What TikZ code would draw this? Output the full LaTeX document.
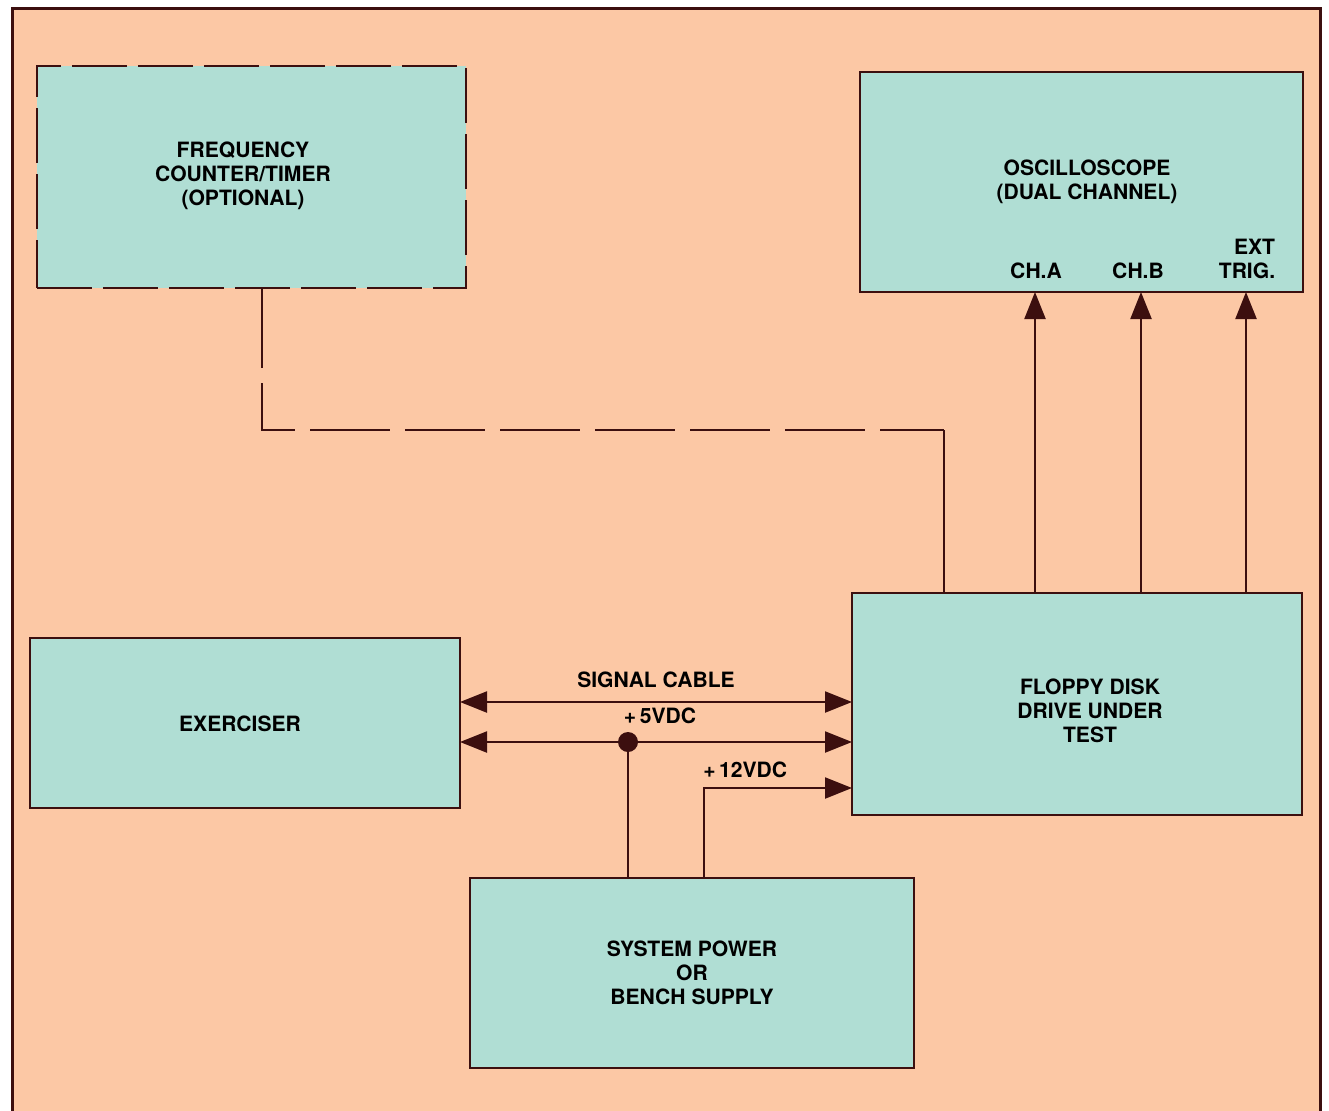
\documentclass[tikz,border=0pt]{standalone}
\usepackage{fontspec}
\setmainfont{TeX Gyre Heros}
\usetikzlibrary{arrows.meta}
\definecolor{peach}{HTML}{FCC8A5}
\definecolor{aqua}{HTML}{B0DED4}
\definecolor{ink}{HTML}{3C0F0F}
\begin{document}
\begin{tikzpicture}[
  x=0.2mm, y=-0.2mm,
  unit/.style={rectangle, draw=ink, fill=aqua, line width=0.45mm, inner sep=0pt, outer sep=0pt,
    align=center, font=\fontsize{12}{13.6}\selectfont\bfseries},
  dunit/.style={unit, dash pattern=on 11mm off 2.2mm},
  wire/.style={draw=ink, line width=0.45mm},
  arrow/.style={wire, -{Triangle[length=5.4mm,width=4.2mm]}},
  both/.style={wire, {Triangle[length=5.4mm,width=4.2mm]}-{Triangle[length=5.4mm,width=4.2mm]}},
  tag/.style={font=\fontsize{12}{13.6}\selectfont\bfseries, inner sep=0pt, align=center}
]
  \useasboundingbox (0,0) rectangle (1329,1111);
  % Page
  \fill[white] (0,0) rectangle (1329,1111);
  \fill[peach] (12,8) rectangle (1320,1111);
  \draw[ink, line width=0.6mm] (12,1111) -- (12,8) -- (1320,8) -- (1320,1111);

  % Instruments
  \node[dunit, minimum width=85.8mm, minimum height=44.4mm] (fq) at (251.5,177) {};
  \node[tag] (fqname) at (243,176) {FREQUENCY\\COUNTER/TIMER\\(OPTIONAL)};
  \node[unit, minimum width=88.6mm, minimum height=44mm] (osc) at (1081.5,182) {};
  \node[tag] (oscname) at (1087,182) {OSCILLOSCOPE\\(DUAL CHANNEL)};
  \node[unit, minimum width=86mm, minimum height=34mm] (ex) at (245,723) {};
  \node[tag] (exname) at (240,724) {EXERCISER};
  \node[unit, minimum width=90mm, minimum height=44.4mm] (fl) at (1077,704) {};
  \node[tag] (flname) at (1090,711) {FLOPPY DISK\\DRIVE UNDER\\TEST};
  \node[unit, minimum width=88.8mm, minimum height=38mm] (pw) at (692,973)
    {SYSTEM POWER\\OR\\BENCH SUPPLY};

  % Scope inputs
  \node[tag] (cha) at (1036,271) {CH.A};
  \node[tag] (chb) at (1138,271) {CH.B};
  \node[tag, align=right] (ext) at (1247,259) {EXT\\TRIG.};
  \coordinate (ta) at (1035,0);
  \coordinate (tb) at (1141,0);
  \coordinate (te) at (1246,0);
  \draw[arrow] (fl.north -| ta) -- (osc.south -| ta);
  \draw[arrow] (fl.north -| tb) -- (osc.south -| tb);
  \draw[arrow] (fl.north -| te) -- (osc.south -| te);

  % Counter hookup
  \coordinate (tap) at (262,0);
  \coordinate (bend) at (944,430);
  \draw[wire, dash pattern=on 16mm off 3mm] (fq.south -| tap) |- (bend);
  \draw[wire] (bend) -- (fl.north -| bend);

  % Cable and supplies
  \coordinate (sc) at (0,702);
  \node[circle, fill=ink, minimum size=4mm, inner sep=0pt] (jn) at (628,742) {};
  \coordinate (v12) at (704,788);
  \draw[both] (ex.east |- sc) -- node[tag, above=2.6mm] (sclbl) {SIGNAL CABLE} (fl.west |- sc);
  \draw[both] (ex.east |- jn) -- node[tag, above=3.4mm, xshift=0.8mm] (v5lbl) {+\,5VDC} (fl.west |- jn);
  \draw[wire] (jn) -- (jn |- pw.north);
  \draw[arrow] (pw.north -| v12) -- (v12) -- (fl.west |- v12);
  \node[tag, anchor=south west] (v12lbl) at (703,778) {+\,12VDC};
\end{tikzpicture}
\end{document}
